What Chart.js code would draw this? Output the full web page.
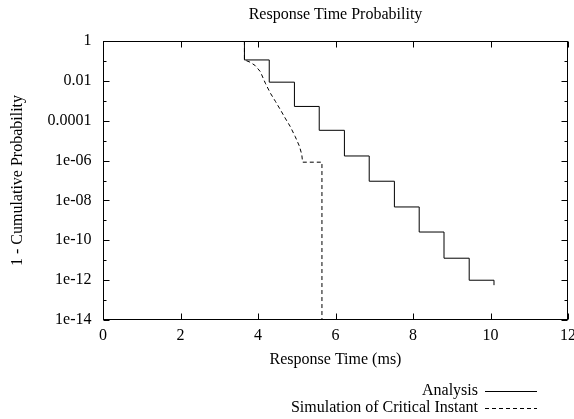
<!DOCTYPE html>
<html><head><meta charset="utf-8">
<script src="https://cdn.jsdelivr.net/npm/chart.js@4/dist/chart.umd.min.js"></script>
<style>html,body{margin:0;padding:0;background:#fff}</style>
</head><body>
<canvas id="c" width="574" height="419"></canvas>
<script>
// ---- data ----
const chartTitle = "Response Time Probability";
const xAxisTitle = "Response Time (ms)";
const yAxisTitle = "1 - Cumulative Probability";
const xTickValues = [0, 2, 4, 6, 8, 10, 12];
const xTickLabels = ["0", "2", "4", "6", "8", "10", "12"];
const yTickValues = [1, 1e-2, 1e-4, 1e-6, 1e-8, 1e-10, 1e-12, 1e-14];
const yTickLabels = ["1", "0.01", "0.0001", "1e-06", "1e-08", "1e-10", "1e-12", "1e-14"];
const yMinorTickValues = [1e-1, 1e-3, 1e-5, 1e-7, 1e-9, 1e-11, 1e-13];

const analysisLabel = "Analysis";
const analysisX = [3.65, 3.65, 4.29, 4.94, 5.58, 6.23, 6.87, 7.52, 8.16, 8.80, 9.45, 10.09];
const analysisY = [1, 0.112, 8.6e-3, 5.2e-4, 3.3e-5, 1.7e-6, 9.2e-8, 4.7e-9, 2.6e-10, 1.26e-11, 9.9e-13, 5.6e-13];

const simLabel = "Simulation of Critical Instant";
const simX = [3.65, 3.65, 3.80, 3.93, 4.06, 4.19, 4.32, 4.45, 4.58, 4.70, 4.83, 4.96, 5.07, 5.13, 5.15, 5.65, 5.65];
const simY = [1, 0.112, 0.086, 0.058, 0.029, 7.6e-3, 2.4e-3, 9.3e-4, 3.5e-4, 1.36e-4, 5.2e-5, 1.6e-5, 5.2e-6, 2e-6, 8.3e-7, 8.3e-7, 1e-14];

const FONT = '16px "Liberation Serif", "Times New Roman", serif';

function pts(xs, ys) { return xs.map((x, i) => ({ x: x, y: ys[i] })); }

const gnuplotPlugin = {
  id: 'gnuplot',
  afterDraw(chart) {
    const ctx = chart.ctx;
    const a = chart.chartArea;
    const xs = chart.scales.x, ys = chart.scales.y;
    const L = Math.round(a.left) + 0.5, R = Math.round(a.right) - 0.5;
    const T = Math.round(a.top) + 0.5, B = Math.round(a.bottom) - 0.5;
    ctx.save();
    ctx.strokeStyle = '#000';
    ctx.lineWidth = 1;
    ctx.setLineDash([]);
    // frame
    ctx.strokeRect(L, T, R - L, B - T);
    // x ticks (bottom + top mirror)
    const maj = 6, mnr = 3;
    ctx.beginPath();
    xTickValues.forEach(v => {
      const px = Math.round(xs.getPixelForValue(v)) + 0.5;
      ctx.moveTo(px, B); ctx.lineTo(px, B - maj);
      ctx.moveTo(px, T); ctx.lineTo(px, T + maj);
    });
    yTickValues.forEach(v => {
      const py = Math.round(ys.getPixelForValue(v)) + 0.5;
      ctx.moveTo(L, py); ctx.lineTo(L + maj, py);
      ctx.moveTo(R, py); ctx.lineTo(R - maj, py);
    });
    yMinorTickValues.forEach(v => {
      const py = Math.round(ys.getPixelForValue(v)) + 0.5;
      ctx.moveTo(L, py); ctx.lineTo(L + mnr, py);
      ctx.moveTo(R, py); ctx.lineTo(R - mnr, py);
    });
    ctx.stroke();

    ctx.fillStyle = '#000';
    ctx.font = FONT;
    ctx.textBaseline = 'middle';
    // x tick labels
    ctx.textAlign = 'center';
    xTickValues.forEach((v, i) => {
      ctx.fillText(xTickLabels[i], xs.getPixelForValue(v), B + 16);
    });
    // y tick labels
    ctx.textAlign = 'right';
    yTickValues.forEach((v, i) => {
      ctx.fillText(yTickLabels[i], L - 12, ys.getPixelForValue(v));
    });
    // titles
    const cx = (a.left + a.right) / 2, cy = (a.top + a.bottom) / 2;
    ctx.textAlign = 'center';
    ctx.fillText(chartTitle, cx, 15);
    ctx.fillText(xAxisTitle, cx, B + 40);
    ctx.save();
    ctx.translate(18, cy);
    ctx.rotate(-Math.PI / 2);
    ctx.fillText(yAxisTitle, 0, 0);
    ctx.restore();
    // legend (gnuplot style)
    const rows = [391, 408];
    chart.data.datasets.forEach((ds, i) => {
      const y = rows[i];
      ctx.textAlign = 'right';
      ctx.fillText(ds.label, 478, y);
      ctx.beginPath();
      ctx.setLineDash(ds.borderDash || []);
      ctx.moveTo(485, Math.round(y) + 0.5);
      ctx.lineTo(537, Math.round(y) + 0.5);
      ctx.stroke();
      ctx.setLineDash([]);
    });
    ctx.restore();
  }
};

new Chart(document.getElementById('c'), {
  type: 'scatter',
  data: {
    datasets: [
      {
        label: analysisLabel,
        data: pts(analysisX, analysisY),
        showLine: true,
        stepped: 'before',
        borderColor: '#000',
        borderWidth: 1,
        pointRadius: 0,
        fill: false
      },
      {
        label: simLabel,
        data: pts(simX, simY),
        showLine: true,
        borderColor: '#000',
        borderWidth: 1,
        borderDash: [4, 3],
        pointRadius: 0,
        tension: 0,
        fill: false
      }
    ]
  },
  options: {
    responsive: false,
    animation: false,
    devicePixelRatio: 1,
    layout: { padding: { top: 41, right: 6, left: 0, bottom: 0 } },
    plugins: { legend: { display: false }, title: { display: false }, tooltip: { enabled: false } },
    scales: {
      x: {
        type: 'linear', min: 0, max: 12,
        grid: { display: false }, border: { display: false },
        ticks: { display: false },
        afterFit: s => { s.height = 99; }
      },
      y: {
        type: 'logarithmic', min: 1e-14, max: 1,
        grid: { display: false }, border: { display: false },
        ticks: { display: false },
        afterFit: s => { s.width = 103; }
      }
    }
  },
  plugins: [gnuplotPlugin]
});
</script>
</body></html>
